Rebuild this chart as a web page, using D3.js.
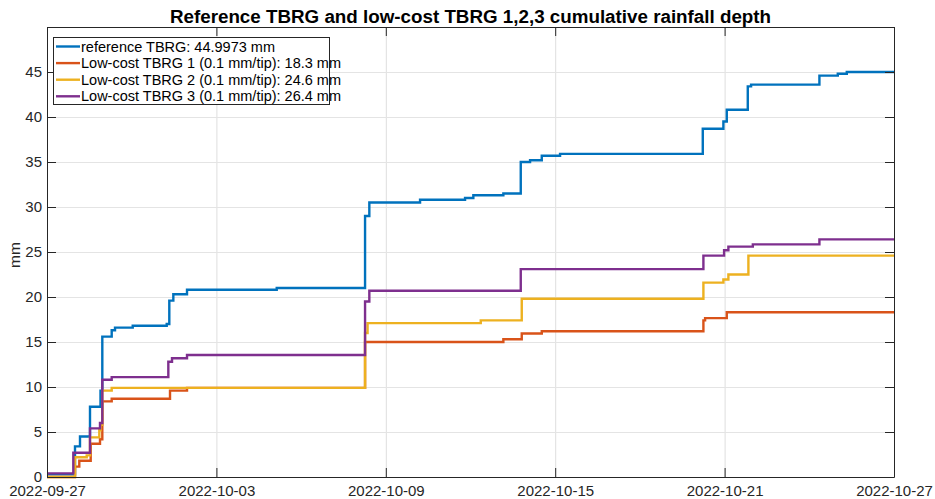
<!DOCTYPE html>
<html>
<head>
<meta charset="utf-8">
<script src="https://cdn.jsdelivr.net/npm/d3@7"></script>
<style>
  html, body { margin: 0; padding: 0; background: #fff; }
  svg { display: block; font-family: "Liberation Sans", Arial, Helvetica, sans-serif; }
</style>
</head>
<body>
<svg id="chart" width="935" height="499"></svg>
<script>
// ---------------- data ----------------
const titleText = "Reference TBRG and low-cost TBRG 1,2,3 cumulative rainfall depth";
const yLabel = "mm";
const xTickLabels = ["2022-09-27", "2022-10-03", "2022-10-09", "2022-10-15", "2022-10-21", "2022-10-27"];
const yTicks = [0, 5, 10, 15, 20, 25, 30, 35, 40, 45];
const seriesNames = [
  "reference TBRG: 44.9973 mm",
  "Low-cost TBRG 1 (0.1 mm/tip): 18.3 mm",
  "Low-cost TBRG 2 (0.1 mm/tip): 24.6 mm",
  "Low-cost TBRG 3 (0.1 mm/tip): 26.4 mm"
];
const seriesColors = ["#0072BD", "#D95319", "#EDB120", "#7E2F8E"];

const referenceTBRG = [
  ["2022-09-27 00:00", 0.3], ["2022-09-27 23:48", 3.4], ["2022-09-28 04:03", 4.5],
  ["2022-09-28 12:33", 7.8], ["2022-09-28 21:29", 9.6], ["2022-09-28 23:01", 15.6],
  ["2022-09-29 07:00", 16.3], ["2022-09-29 09:49", 16.6], ["2022-09-30 00:52", 16.8],
  ["2022-10-01 05:46", 17.0], ["2022-10-01 07:58", 19.6], ["2022-10-01 11:23", 20.3],
  ["2022-10-01 23:01", 20.8], ["2022-10-05 03:17", 21.0], ["2022-10-08 06:22", 29.0],
  ["2022-10-08 10:00", 30.5], ["2022-10-10 05:07", 30.8], ["2022-10-11 19:22", 31.0],
  ["2022-10-12 02:25", 31.3], ["2022-10-13 03:56", 31.5], ["2022-10-13 18:43", 35.0],
  ["2022-10-14 02:38", 35.2], ["2022-10-14 12:35", 35.7], ["2022-10-15 04:08", 35.9],
  ["2022-10-20 05:27", 38.7], ["2022-10-20 22:58", 39.5], ["2022-10-21 01:51", 40.8],
  ["2022-10-21 19:42", 43.4], ["2022-10-21 22:31", 43.6], ["2022-10-24 08:36", 44.6],
  ["2022-10-25 00:13", 44.8], ["2022-10-25 07:52", 45.0], ["2022-10-27 00:00", 45.0]
];
const lowCost1 = [
  ["2022-09-27 00:00", 0.0], ["2022-09-27 23:48", 1.15], ["2022-09-28 03:27", 1.8],
  ["2022-09-28 13:09", 3.7], ["2022-09-28 21:03", 4.2], ["2022-09-28 23:01", 8.4],
  ["2022-09-29 07:00", 8.7], ["2022-10-01 08:34", 9.6], ["2022-10-01 23:01", 9.9],
  ["2022-10-08 06:22", 15.0], ["2022-10-13 03:56", 15.3], ["2022-10-13 19:34", 15.95],
  ["2022-10-14 12:35", 16.2], ["2022-10-20 05:59", 17.4], ["2022-10-20 07:25", 17.65],
  ["2022-10-21 01:51", 18.3], ["2022-10-27 00:00", 18.3]
];
const lowCost2 = [
  ["2022-09-27 00:00", 0.0], ["2022-09-27 23:48", 2.2], ["2022-09-28 09:45", 2.4],
  ["2022-09-28 12:33", 4.4], ["2022-09-28 20:28", 5.2], ["2022-09-28 21:29", 5.8],
  ["2022-09-28 23:01", 9.6], ["2022-09-29 07:00", 9.9], ["2022-10-08 06:22", 16.0],
  ["2022-10-08 08:30", 17.1], ["2022-10-12 08:43", 17.4], ["2022-10-13 19:34", 19.8],
  ["2022-10-20 05:59", 21.6], ["2022-10-20 22:58", 21.95], ["2022-10-21 03:13", 22.5],
  ["2022-10-21 20:14", 24.6], ["2022-10-27 00:00", 24.6]
];
const lowCost3 = [
  ["2022-09-27 00:00", 0.4], ["2022-09-27 22:22", 2.7], ["2022-09-28 12:33", 5.4],
  ["2022-09-28 21:03", 6.0], ["2022-09-28 23:01", 10.8], ["2022-09-29 07:00", 11.1],
  ["2022-10-01 07:08", 12.8], ["2022-10-01 10:16", 13.2], ["2022-10-01 23:01", 13.55],
  ["2022-10-08 06:22", 19.5], ["2022-10-08 10:00", 20.7], ["2022-10-13 18:43", 23.1],
  ["2022-10-20 05:59", 24.6], ["2022-10-20 23:34", 25.2], ["2022-10-21 03:13", 25.6],
  ["2022-10-22 00:00", 25.85], ["2022-10-24 08:36", 26.4], ["2022-10-27 00:00", 26.4]
];
const allSeries = [referenceTBRG, lowCost1, lowCost2, lowCost3];

// ---------------- layout ----------------
const M = { left: 47, right: 894, top: 27, bottom: 477 };
const parseT = d3.timeParse("%Y-%m-%d %H:%M");
const parseD = d3.timeParse("%Y-%m-%d");
const tickDates = xTickLabels.map(parseD);

const svg = d3.select("#chart");
const x = d3.scaleTime().domain([tickDates[0], tickDates[tickDates.length - 1]]).range([M.left, M.right]);
const y = d3.scaleLinear().domain([0, 50]).range([M.bottom, M.top]);
const W = M.right - M.left, H = M.bottom - M.top;
const axisColor = "#262626";
const tickFont = "15px";

// grid
svg.append("g").attr("transform", `translate(0,${M.bottom})`)
  .call(d3.axisBottom(x).tickValues(tickDates).tickSize(-H).tickFormat(""))
  .call(g => g.select(".domain").remove())
  .call(g => g.selectAll("line").attr("stroke", "#dedede").attr("stroke-width", 1));
svg.append("g").attr("transform", `translate(${M.left},0)`)
  .call(d3.axisLeft(y).tickValues(yTicks).tickSize(-W).tickFormat(""))
  .call(g => g.select(".domain").remove())
  .call(g => g.selectAll("line").attr("stroke", "#e4e4e4").attr("stroke-width", 1));

// lines
const line = d3.line()
  .x(d => x(parseT(d[0])))
  .y(d => y(d[1]))
  .curve(d3.curveStepAfter);
allSeries.forEach((s, i) => {
  svg.append("path").datum(s)
    .attr("fill", "none")
    .attr("stroke", seriesColors[i])
    .attr("stroke-width", 2.4)
    .attr("stroke-linejoin", "miter")
    .attr("d", line);
});

// axes (box with inward ticks)
const tk = 9;
const xb = svg.append("g").attr("transform", `translate(0,${M.bottom})`)
  .call(d3.axisBottom(x).tickValues(tickDates).tickSize(-tk).tickPadding(8).tickSizeOuter(0)
    .tickFormat(d3.timeFormat("%Y-%m-%d")));
const xt = svg.append("g").attr("transform", `translate(0,${M.top})`)
  .call(d3.axisTop(x).tickValues(tickDates).tickSize(-tk).tickSizeOuter(0).tickFormat(""));
const yl = svg.append("g").attr("transform", `translate(${M.left},0)`)
  .call(d3.axisLeft(y).tickValues(yTicks).tickSize(-tk).tickPadding(5).tickSizeOuter(0));
const yr = svg.append("g").attr("transform", `translate(${M.right},0)`)
  .call(d3.axisRight(y).tickValues(yTicks).tickSize(-tk).tickSizeOuter(0).tickFormat(""));
[xb, xt, yl, yr].forEach(g => {
  g.selectAll(".domain").attr("stroke", axisColor).attr("stroke-width", 1);
  g.selectAll(".tick line").attr("stroke", axisColor);
  g.selectAll("text").attr("fill", axisColor).style("font-size", tickFont)
    .style("font-family", "'Liberation Sans', Arial, sans-serif");
});

// title
svg.append("text").attr("x", (M.left + M.right) / 2).attr("y", 23)
  .attr("text-anchor", "middle").attr("fill", "#000")
  .style("font-size", "18.8px").style("font-weight", "bold")
  .text(titleText);

// y label
svg.append("text").attr("transform", `translate(20,${(M.top + M.bottom) / 2 + 3}) rotate(-90)`)
  .attr("text-anchor", "middle").attr("fill", axisColor)
  .style("font-size", "15.5px").text(yLabel);

// legend
const lg = svg.append("g").attr("transform", "translate(53,37)");
const rowH = 16.6;
lg.append("rect").attr("x", 0.5).attr("y", 0.5).attr("width", 276).attr("height", 67)
  .attr("fill", "#fff").attr("stroke", axisColor).attr("stroke-width", 1);
seriesNames.forEach((n, i) => {
  const cy = 9.5 + i * rowH;
  lg.append("line").attr("x1", 3).attr("x2", 27).attr("y1", cy).attr("y2", cy)
    .attr("stroke", seriesColors[i]).attr("stroke-width", 2.4);
  lg.append("text").attr("x", 28).attr("y", cy).attr("dy", "0.35em")
    .attr("fill", "#000").style("font-size", "14.5px").text(n);
});
</script>
</body>
</html>
